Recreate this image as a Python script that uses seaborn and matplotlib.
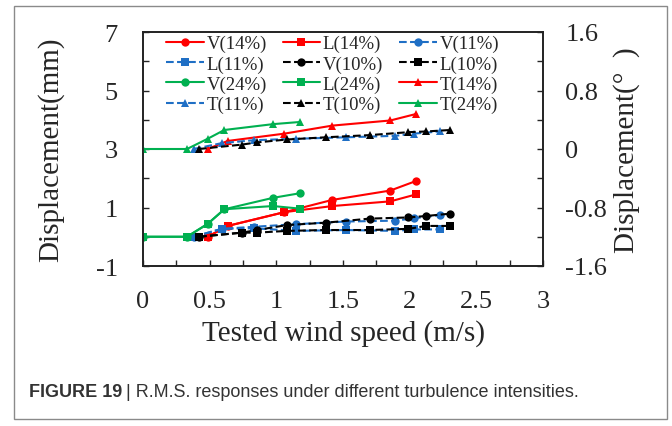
import numpy as np
import pandas as pd
import seaborn as sns
import matplotlib.pyplot as plt
from matplotlib.patches import Rectangle
from matplotlib.ticker import MultipleLocator, FixedLocator, FuncFormatter

# translational responses (mm), left axis
x_24 = [0, 0.33, 0.485, 0.61, 0.975, 1.18]
v_24 = [0, 0, 0.44, 0.94, 1.33, 1.49]
l_24 = [0, 0, 0.44, 0.94, 1.05, 0.96]
x_14 = [0.485, 0.635, 1.06, 1.42, 1.855, 2.05]
v_14 = [0, 0.37, 0.84, 1.26, 1.58, 1.91]
l_14 = [0, 0.37, 0.84, 1.05, 1.21, 1.45]
x_11 = [0.38, 0.59, 0.83, 1.15, 1.52, 1.89, 2.03, 2.225]
v_11 = [0, 0.27, 0.34, 0.43, 0.52, 0.55, 0.63, 0.74]
l_11 = [0, 0.27, 0.29, 0.20, 0.23, 0.20, 0.25, 0.25]
x_10 = [0.42, 0.74, 0.855, 1.08, 1.37, 1.70, 1.99, 2.125, 2.305]
v_10 = [0, 0.14, 0.23, 0.40, 0.48, 0.62, 0.66, 0.71, 0.79]
l_10 = [0, 0.14, 0.14, 0.20, 0.23, 0.23, 0.27, 0.37, 0.37]

# torsional responses (deg), right axis
t_24 = [0, 0, 0.14, 0.26, 0.34, 0.37]
t_14 = [0, 0.11, 0.21, 0.32, 0.39, 0.48]
t_11 = [0, 0.08, 0.12, 0.14, 0.16, 0.18, 0.21, 0.24]
t_10 = [0, 0.06, 0.09, 0.13, 0.16, 0.19, 0.23, 0.24, 0.26]

red, blue, black, green = '#ff0000', '#1f6fc5', '#000000', '#00b050'

sns.set_style('ticks')
plt.rcParams['font.family'] = ['Liberation Serif', 'DejaVu Serif']
plt.rcParams['axes.unicode_minus'] = False

fig = plt.figure(figsize=(6.72, 4.27), dpi=100)
ax = fig.add_axes([143 / 672, 1 - 267 / 427, 400 / 672, 234 / 427])
ax2 = ax.twinx()


def draw(a, x, y, color, marker, ls, name):
    sns.lineplot(x=x, y=y, ax=a, color=color, marker=marker, linestyle=ls,
                 linewidth=1.5, markersize=6, markeredgewidth=0, label=name,
                 estimator=None, sort=False)


draw(ax, x_14, v_14, red, 'o', '-', 'V(14%)')
draw(ax, x_14, l_14, red, 's', '-', 'L(14%)')
draw(ax, x_11, v_11, blue, 'o', '--', 'V(11%)')
draw(ax, x_11, l_11, blue, 's', '--', 'L(11%)')
draw(ax, x_10, v_10, black, 'o', '--', 'V(10%)')
draw(ax, x_10, l_10, black, 's', '--', 'L(10%)')
draw(ax, x_24, v_24, green, 'o', '-', 'V(24%)')
draw(ax, x_24, l_24, green, 's', '-', 'L(24%)')
draw(ax2, x_14, t_14, red, '^', '-', 'T(14%)')
draw(ax2, x_11, t_11, blue, '^', '--', 'T(11%)')
draw(ax2, x_10, t_10, black, '^', '--', 'T(10%)')
draw(ax2, x_24, t_24, green, '^', '-', 'T(24%)')

for a in (ax, ax2):
    if a.get_legend() is not None:
        a.get_legend().remove()

ax.set_xlim(0, 3)
ax.set_ylim(-1, 7)
ax2.set_ylim(-1.6, 1.6)

fmt = FuncFormatter(lambda v, p: '%g' % round(v, 2))
ax.xaxis.set_major_locator(MultipleLocator(0.5))
ax.xaxis.set_minor_locator(MultipleLocator(0.25))
ax.xaxis.set_major_formatter(fmt)
ax.yaxis.set_major_locator(FixedLocator([-1, 1, 3, 5, 7]))
ax.yaxis.set_minor_locator(FixedLocator([0, 2, 4, 6]))
ax2.yaxis.set_major_locator(FixedLocator([-1.6, -0.8, 0, 0.8, 1.6]))
ax2.yaxis.set_minor_locator(FixedLocator([-1.2, -0.4, 0.4, 1.2]))
ax2.yaxis.set_major_formatter(fmt)

ax.tick_params(axis='x', which='both', direction='in', length=4, width=1, labelsize=19, pad=17)
ax.tick_params(axis='y', which='both', direction='in', length=4, width=1, labelsize=19, pad=18)
ax2.tick_params(axis='y', which='both', direction='in', length=4, width=1, labelsize=19, pad=16)

for a in (ax, ax2):
    for s in a.spines.values():
        s.set_linewidth(1.2)
        s.set_color('#222222')

ax.set_xlabel('Tested wind speed (m/s)', fontsize=21)
ax.set_ylabel('Displacement(mm)', fontsize=21)
ax2.set_ylabel('Displacement(°  )', fontsize=21)
ax.xaxis.set_label_coords(0.5, -0.225)
ax.yaxis.label.set_va('center')
ax.yaxis.set_label_coords((51 - 143) / 400, 0.5)
ax2.yaxis.label.set_va('center')
ax2.yaxis.label.set_rotation(90)
ax2.yaxis.set_label_coords((627 - 143) / 400, 0.5)

h1, lab1 = ax.get_legend_handles_labels()
h2, lab2 = ax2.get_legend_handles_labels()
handles = dict(zip(lab1 + lab2, h1 + h2))
order = ['V(14%)', 'L(11%)', 'V(24%)', 'T(11%)',
         'L(14%)', 'V(10%)', 'L(24%)', 'T(10%)',
         'V(11%)', 'L(10%)', 'T(14%)', 'T(24%)']
ax2.legend([handles[k] for k in order], order, ncol=3, loc='upper left',
           bbox_to_anchor=(166 / 672, 1 - 36 / 427), bbox_transform=fig.transFigure,
           frameon=False, fontsize=13.5, handlelength=2.0, handletextpad=0.15,
           columnspacing=0.85, labelspacing=0.16, borderpad=0, borderaxespad=0)

# figure frame and caption
fig.patches.append(Rectangle((14 / 672, 1 - 420 / 427), 653 / 672, 413 / 427,
                             transform=fig.transFigure, fill=False,
                             edgecolor='#8a8a8a', linewidth=1))
t1 = fig.text(29 / 672, 1 - 393 / 427, 'FIGURE 19', fontsize=13, fontweight='bold',
              family=['Liberation Sans', 'DejaVu Sans'], color='#333333', va='center')
fig.canvas.draw()
bb = t1.get_window_extent()
fig.text((bb.x1 + 4) / 672, 1 - 393 / 427, '| R.M.S. responses under different turbulence intensities.',
         fontsize=13, family=['Liberation Sans', 'DejaVu Sans'], color='#333333', va='center')

fig.savefig('out.png', dpi=100)
